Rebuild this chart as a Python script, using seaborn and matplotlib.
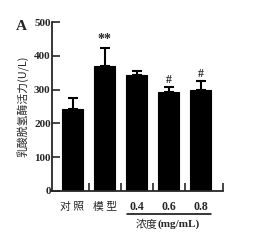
import matplotlib
matplotlib.use("Agg")
import matplotlib.pyplot as plt
import seaborn as sns
import pandas as pd
import numpy as np
from matplotlib.transforms import blended_transform_factory

sns.set_style("ticks")
plt.rcParams['font.family'] = ['Liberation Serif', 'Noto Sans CJK SC']

categories = ['对照', '模型', '0.4', '0.6', '0.8']
means = [242, 371, 343, 294, 298]
errors = [32, 53, 12, 14, 27]
marks = ['', '**', '', '#', '#']
yticks = [0, 100, 200, 300, 400, 500]

df = pd.DataFrame({'group': categories, 'value': means})

fig = plt.figure(figsize=(2.63, 2.42), dpi=100)
ax = fig.add_axes([0.198, 0.211, 0.650, 0.698])

sns.barplot(data=df, x='group', y='value', order=categories, color='black',
            width=0.66, errorbar=None, ax=ax, edgecolor='black', linewidth=0.8)
xs = np.arange(len(categories))
ax.errorbar(xs, means, yerr=[np.zeros(len(errors)), errors], fmt='none',
            ecolor='black', elinewidth=1.5, capsize=3.6, capthick=1.5)

for x, m, e, s in zip(xs, means, errors, marks):
    if s:
        ax.text(x, m + e + 4, s, ha='center', va='bottom', fontsize=10 if s == '**' else 8.5,
                fontweight='bold', family='Liberation Serif')

ax.set_xlim(-0.64, 4.70)
ax.set_ylim(0, 500)
ax.set_yticks(yticks)
ax.set_yticklabels([str(t) for t in yticks], fontsize=8, fontweight='bold',
                   family='Liberation Serif')
ax.set_xticks([0.5, 1.5, 2.5, 3.5, 4.70])
ax.set_xticklabels([])
ax.tick_params(axis='both', direction='in', length=5.5, width=1.2, pad=1)
ax.set_xlabel('')
ax.set_ylabel('乳酸脱氢酶活力(U/L)', family=['Noto Sans CJK SC'], fontsize=7.8, labelpad=3)
for sp in ['left', 'bottom']:
    ax.spines[sp].set_linewidth(1.3)
sns.despine(ax=ax)

tr = blended_transform_factory(ax.transData, fig.transFigure)
for i, c in enumerate(categories):
    if i < 2:
        ax.text(i, 0.145, ' '.join(c), transform=tr, ha='center', va='center', fontsize=7.8,
                family=['Noto Sans CJK SC'])
    else:
        ax.text(i, 0.145, c, transform=tr, ha='center', va='center', fontsize=8.5,
                fontweight='bold', family='Liberation Serif')

ax.plot([1.7, 4.32], [0.117, 0.117], transform=tr, color='black', lw=1.1, clip_on=False)
ax.text(2.66, 0.072, '浓度', transform=tr, ha='right', va='center', fontsize=7.8,
        family=['Noto Sans CJK SC'])
ax.text(2.66, 0.072, '(mg/mL)', transform=tr, ha='left', va='center', fontsize=8,
        fontweight='bold', family='Liberation Serif')

fig.text(0.06, 0.875, 'A', fontsize=11, fontweight='bold', family='Liberation Serif')

fig.savefig('out.png', dpi=100)
